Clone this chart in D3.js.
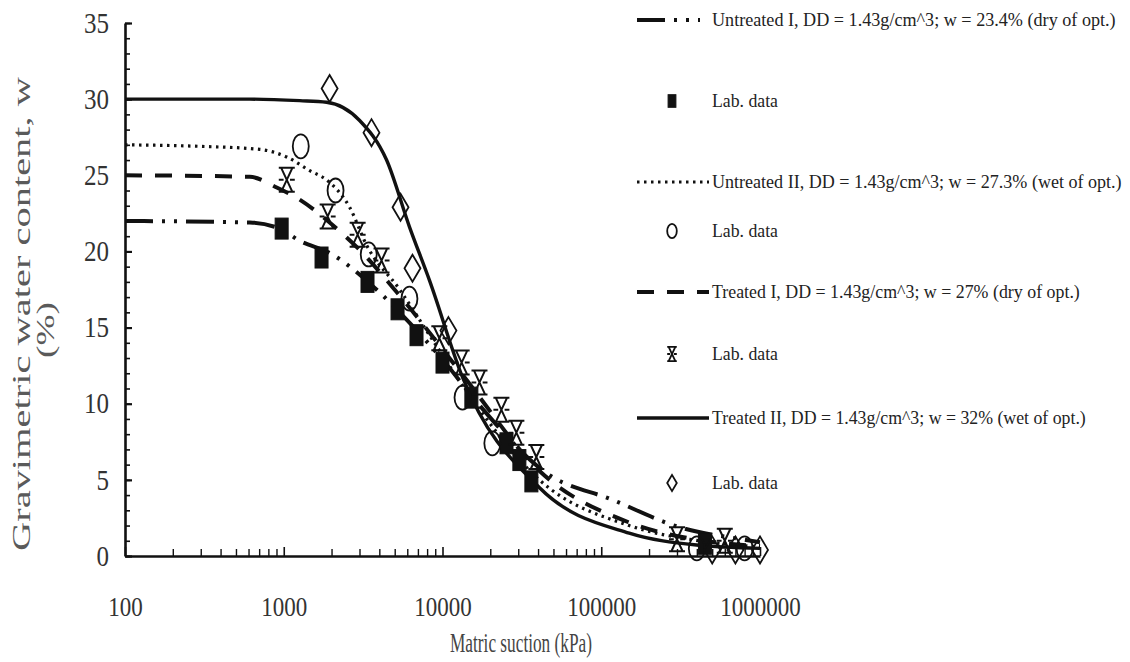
<!DOCTYPE html>
<html><head><meta charset="utf-8">
<script src="https://cdn.jsdelivr.net/npm/d3@7"></script>
<style>body{margin:0;background:#fff} svg{display:block}</style>
</head><body>
<svg id="chart" width="1130" height="662"></svg>
<script>
// ---------- data ----------
const xTickValues = [100, 1000, 10000, 100000, 1000000];
const xTickLabels = ["100", "1000", "10000", "100000", "1000000"];
const yTickValues = [0, 5, 10, 15, 20, 25, 30, 35];

const legendLabels = [
  "Untreated I, DD = 1.43g/cm^3; w = 23.4%  (dry of opt.)",
  "Lab. data",
  "Untreated II, DD = 1.43g/cm^3; w = 27.3%  (wet of opt.)",
  "Lab. data",
  "Treated I, DD = 1.43g/cm^3; w = 27%  (dry of opt.)",
  "Lab. data",
  "Treated II, DD = 1.43g/cm^3; w = 32%  (wet of opt.)",
  "Lab. data"
];

// fitted curves [suction kPa, w %]
const untreated1Curve = [[100,22.0],[611,21.9],[940,21.5],[1260,20.7],[1945,19.9],[3480,17.9],[5370,16.0],[10000,12.9],[17100,9.9],[45100,5.45],[117000,3.7],[309000,1.9],[817000,1.05],[1000000,0.9]];
const untreated2Curve = [[100,27.0],[296,26.9],[706,26.7],[1045,26.2],[1460,25.3],[1860,24.7],[2600,22.9],[3330,20.4],[5370,17.5],[8280,14.5],[13370,11.2],[40700,5.0],[150000,2.0],[413000,1.0],[1000000,0.6]];
const treated1Curve = [[100,25.0],[611,24.9],[903,24.2],[1260,23.4],[1945,21.9],[3006,20.1],[5370,17.1],[13370,11.9],[40700,5.6],[150000,2.2],[413000,1.05],[1000000,0.65]];
const treated2Curve = [[100,30.0],[611,30.0],[1260,29.9],[1860,29.8],[3006,28.6],[4445,26.0],[6200,21.6],[8280,18.1],[13360,11.75],[40700,4.5],[150000,1.5],[398000,0.72],[1000000,0.5]];

// lab data [suction kPa, w %]
const untreated1Lab = [[970,21.5],[1730,19.6],[3370,18.0],[5210,16.2],[6860,14.5],[10000,12.7],[15200,10.4],[25300,7.4],[30500,6.3],[36300,4.9],[450000,0.8]];
const untreated2Lab = [[1280,26.9],[2120,24.0],[3430,19.8],[6190,16.9],[13370,10.4],[20600,7.4],[400000,0.5],[800000,0.5]];
const treated1Lab = [[1045,24.7],[1890,22.3],[2920,21.1],[4130,19.4],[9550,14.3],[13200,12.7],[17100,11.4],[23500,9.6],[29200,8.1],[39000,6.5],[300000,1.1],[600000,1.0]];
const treated2Lab = [[1945,30.7],[3570,27.8],[5440,22.9],[6470,18.9],[10900,14.8],[500000,0.4],[700000,0.4],[1000000,0.4]];

// ---------- layout ----------
const svg = d3.select("#chart");
const x = d3.scaleLog().domain([100, 1000000]).range([125, 760]);
const y = d3.scaleLinear().domain([0, 35]).range([556, 23]);
const FONT = "'Liberation Serif','Times New Roman',serif";

function fitText(sel, target) {
  const w = sel.node().getComputedTextLength();
  const sx = w > 0 ? target / w : 1;
  sel.attr("transform", `translate(${+sel.attr("data-x")},${+sel.attr("data-y")}) scale(${sx},1)`);
}

// minor x ticks
const minorX = [];
for (let d = 100; d < 1000000; d *= 10) for (let k = 2; k <= 9; k++) minorX.push(d * k);
svg.append("g").attr("transform", "translate(0,556)")
  .call(d3.axisBottom(x).tickValues(minorX).tickSize(-7).tickFormat(""))
  .call(g => g.select(".domain").remove())
  .call(g => g.selectAll("line").attr("stroke", "#111").attr("stroke-width", 1.4));

// minor y ticks
svg.append("g").attr("transform", "translate(125,0)")
  .call(d3.axisLeft(y).tickValues(d3.range(0, 36)).tickSize(-5).tickFormat(""))
  .call(g => g.select(".domain").remove())
  .call(g => g.selectAll("line").attr("stroke", "#111").attr("stroke-width", 1.6));

// major x axis
const xAxis = svg.append("g").attr("transform", "translate(0,556)")
  .call(d3.axisBottom(x).tickValues(xTickValues).tickSizeInner(-9).tickSizeOuter(0)
    .tickPadding(40).tickFormat((d, i) => xTickLabels[i]));
xAxis.select(".domain").attr("stroke", "#111").attr("stroke-width", 2.6);
xAxis.selectAll("line").attr("stroke", "#111").attr("stroke-width", 1.6);
xAxis.selectAll("text").attr("font-family", FONT).attr("font-size", 28).attr("fill", "#333")
  .attr("textLength", (d, i) => xTickLabels[i].length * 11.5).attr("lengthAdjust", "spacingAndGlyphs");

// major y axis
const yAxis = svg.append("g").attr("transform", "translate(125,0)")
  .call(d3.axisLeft(y).tickValues(yTickValues).tickSizeInner(-7).tickSizeOuter(0).tickPadding(16));
yAxis.select(".domain").attr("stroke", "#111").attr("stroke-width", 2.6);
yAxis.selectAll("line").attr("stroke", "#111").attr("stroke-width", 2.2);
yAxis.selectAll("text").attr("font-family", FONT).attr("font-size", 29).attr("fill", "#333")
  .attr("textLength", d => String(d).length * 12.5).attr("lengthAdjust", "spacingAndGlyphs");

// axis titles
svg.append("text").attr("transform", "translate(30,314) rotate(-90)")
  .attr("text-anchor", "middle").attr("font-family", FONT).attr("font-size", 25).attr("fill", "#5a5a5a")
  .attr("textLength", 474).attr("lengthAdjust", "spacingAndGlyphs")
  .text("Gravimetric water content, w");
svg.append("text").attr("transform", "translate(54,330) rotate(-90)")
  .attr("text-anchor", "middle").attr("font-family", FONT).attr("font-size", 25).attr("fill", "#5a5a5a")
  .attr("textLength", 56).attr("lengthAdjust", "spacingAndGlyphs")
  .text("(%)");
svg.append("text").attr("x", 521).attr("y", 652)
  .attr("text-anchor", "middle").attr("font-family", FONT).attr("font-size", 27).attr("fill", "#444")
  .attr("textLength", 142).attr("lengthAdjust", "spacingAndGlyphs")
  .text("Matric suction (kPa)");

// ---------- curves ----------
const lineGen = d3.line().x(d => x(d[0])).y(d => y(d[1])).curve(d3.curveMonotoneX);
const styles = [
  {dash: "28,9,3,9,3,9", width: 4, legendEnd: 700},
  {dash: "2.5,4.5", width: 3.2, legendEnd: 709},
  {dash: "17,13", width: 4, legendEnd: 709},
  {dash: null, width: 3.4, legendEnd: 709}
];
[untreated1Curve, untreated2Curve, treated1Curve, treated2Curve].forEach((c, i) => {
  svg.append("path").datum(c).attr("d", lineGen).attr("fill", "none")
    .attr("stroke", "#111").attr("stroke-width", styles[i].width)
    .attr("stroke-dasharray", styles[i].dash);
});

// ---------- markers ----------
function xMarkPath(w, h) {
  return `M${-w},${-h}L${w},${-h}M${-w},${h}L${w},${h}M${-w*0.7},${-h}L${w*0.7},${h}M${w*0.7},${-h}L${-w*0.7},${h}M${-w},0L${-w*0.4},0M${w*0.4},0L${w},0`;
}
function drawMarker(g, type, cx, cy, s) {
  if (type === "square") {
    g.append("rect").attr("x", cx - 6.5 * s).attr("y", cy - 10.5 * s).attr("width", 13 * s).attr("height", 21 * s)
      .attr("fill", "#111").attr("stroke", "#111").attr("stroke-width", 1);
  } else if (type === "circle") {
    g.append("ellipse").attr("cx", cx).attr("cy", cy).attr("rx", 8 * s).attr("ry", 12 * s)
      .attr("fill", "none").attr("stroke", "#111").attr("stroke-width", 1.8);
  } else if (type === "x") {
    g.append("path").attr("transform", `translate(${cx},${cy})`).attr("d", xMarkPath(8 * s, 12 * s))
      .attr("fill", "none").attr("stroke", "#111").attr("stroke-width", 2 * Math.max(s, 0.9));
  } else {
    g.append("path").attr("transform", `translate(${cx},${cy})`)
      .attr("d", `M0,${-13.5 * s}L${8 * s},0L0,${13.5 * s}L${-8 * s},0Z`)
      .attr("fill", "none").attr("stroke", "#111").attr("stroke-width", 1.8);
  }
}
const markerTypes = ["square", "circle", "x", "diamond"];
const labSets = [untreated1Lab, untreated2Lab, treated1Lab, treated2Lab];
const mg = svg.append("g");
labSets.forEach((set, i) => set.forEach(d => drawMarker(mg, markerTypes[i], x(d[0]), y(d[1]), 1)));

// ---------- legend ----------
const legendY = [20, 101, 182, 231, 292, 354, 418, 483];
const legendLen = [404, 66, 410, 66, 368, 66, 374, 66];
const lg = svg.append("g");
legendLabels.forEach((t, i) => {
  const yy = legendY[i];
  if (i % 2 === 0) {
    const s = styles[i / 2];
    lg.append("line").attr("x1", 637).attr("x2", s.legendEnd).attr("y1", yy).attr("y2", yy)
      .attr("stroke", "#111").attr("stroke-width", s.width).attr("stroke-dasharray", s.dash);
  } else {
    drawMarker(lg, markerTypes[(i - 1) / 2], 672, yy, 0.6);
  }
  const tx = lg.append("text").attr("x", 0).attr("y", 0).attr("data-x", 712).attr("data-y", yy + 6)
    .attr("font-family", FONT).attr("font-size", 19).attr("fill", "#222").text(t);
  fitText(tx, legendLen[i]);
});
</script>
</body></html>
